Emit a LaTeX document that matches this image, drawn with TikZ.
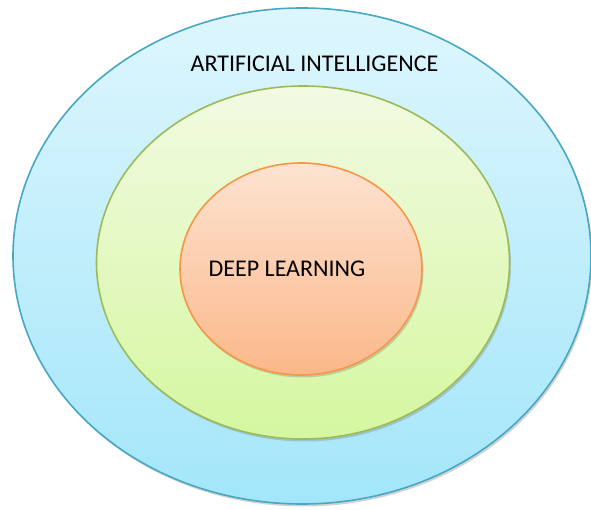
\documentclass[tikz,border=0pt]{standalone}
\usepackage{fontspec}
\setmainfont{Carlito}
\usetikzlibrary{shapes.geometric,shadows}

\definecolor{ailine}{HTML}{46A8C4}
\definecolor{aitop}{HTML}{DEF6FD}
\definecolor{aibot}{HTML}{A3E6FA}
\definecolor{mlline}{HTML}{9BBB59}
\definecolor{mltop}{HTML}{F2FAE2}
\definecolor{mlbot}{HTML}{D5F7A0}
\definecolor{dlline}{HTML}{F79646}
\definecolor{dltop}{HTML}{FDE3D2}
\definecolor{dlbot}{HTML}{FBB889}

\tikzset{
  ring/.style={ellipse, inner sep=0pt, line width=1.6pt,
    drop shadow={opacity=.35, shadow xshift=1.5pt, shadow yshift=-2.5pt}},
  caption/.style={inner sep=0pt, anchor=base, text=black,
    font=\fontsize{24}{28}\selectfont}
}

\begin{document}
\begin{tikzpicture}[x=1pt,y=1pt]
  \useasboundingbox (0,0) rectangle (591,509);

  % three nested sets
  \node[ring, draw=ailine, top color=aitop, bottom color=aibot,
        minimum width=578pt, minimum height=496pt] (ai) at (302,253) {};
  \node[ring, draw=mlline, top color=mltop, bottom color=mlbot,
        minimum width=413pt, minimum height=353pt] (ml) at (303,246.5) {};
  \node[ring, draw=dlline, top color=dltop, bottom color=dlbot,
        minimum width=242pt, minimum height=212pt] (dl) at (301,240) {};

  % labels
  \node[caption] (ailabel) at (314.5,437) {ARTIFICIAL INTELLIGENCE};
  \node[caption] (dllabel) at (287,232) {DEEP LEARNING};
\end{tikzpicture}
\end{document}
